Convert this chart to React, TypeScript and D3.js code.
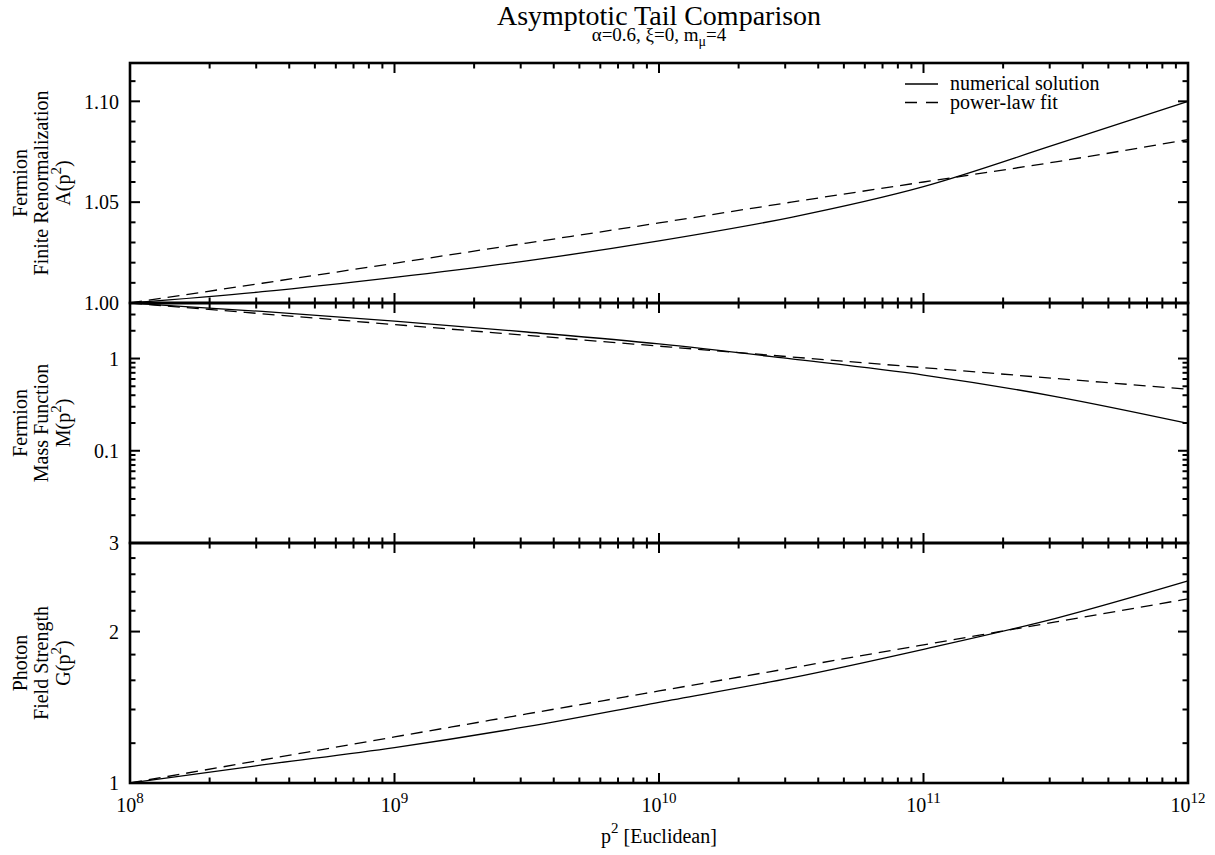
import React from 'react';
import * as d3 from 'd3';

// ---- data ----
const pSquared = [1e8, 3.162e8, 1e9, 3.162e9, 1e10, 3.162e10, 1e11, 3.162e11, 1e12];

const aNumerical = [1.0, 1.0056, 1.0127, 1.0209, 1.0308, 1.0425, 1.0577, 1.0786, 1.1];
const aPowerFit = [1.0, 1.0098, 1.0197, 1.0297, 1.0397, 1.05, 1.06, 1.07, 1.081];

const mNumerical = [4.0, 3.24, 2.55, 1.94, 1.44, 0.99, 0.662, 0.387, 0.198];
const mPowerFit = [4.0, 3.056, 2.335, 1.784, 1.363, 1.041, 0.796, 0.608, 0.464];

const gNumerical = [1.0, 1.086, 1.176, 1.294, 1.447, 1.618, 1.844, 2.125, 2.522];
const gPowerFit = [1.0, 1.111, 1.235, 1.372, 1.524, 1.693, 1.882, 2.091, 2.323];

const xMajorTicks = [1e8, 1e9, 1e10, 1e11, 1e12];
const xTickExponents = ['8', '9', '10', '11', '12'];

const aMajorTicks = [1.0, 1.05, 1.1];
const aTickLabels = ['1.00', '1.05', '1.10'];
const aMinorTicks = [1.01, 1.02, 1.03, 1.04, 1.06, 1.07, 1.08, 1.09, 1.11];

const mMajorTicks = [0.01, 0.1, 1];
const mTickLabels = ['', '0.1', '1'];

const gMajorTicks = [1, 2, 3];
const gTickLabels = ['1', '2', '3'];
const gMinorTicks = [1.2, 1.4, 1.6, 1.8, 2.2, 2.4, 2.6, 2.8];

const legendLabels = ['numerical solution', 'power-law fit'];

// ---- layout ----
const W = 1215;
const H = 855;
const LEFT = 130;
const RIGHT = 1188;
const FONT = "'Liberation Serif','Times New Roman',Times,serif";
const MAJOR = 10;
const MINOR = 5.5;
const DASH = '12,7';

const xScale = d3.scaleLog().domain([1e8, 1e12]).range([LEFT, RIGHT]);
const xMinorTicks = xScale.ticks().filter((t) => !xMajorTicks.some((m) => Math.abs(m - t) / m < 1e-9));

const yA = d3.scaleLinear().domain([1.0, 1.119]).range([303, 63]);
const yM = d3.scaleLog().domain([0.01, 4]).range([543, 303]);
const yG = d3.scaleLog().domain([1, 3]).range([783, 543]);
const mMinorTicks = yM.ticks().filter((t) => !mMajorTicks.some((m) => Math.abs(m - t) / m < 1e-9));

type PanelProps = {
  y: any;
  top: number;
  bottom: number;
  majors: number[];
  labels: string[];
  minors: number[];
  numerical: number[];
  fit: number[];
  title: React.ReactNode[];
};

function Panel({ y, top, bottom, majors, labels, minors, numerical, fit, title }: PanelProps) {
  const line = d3
    .line<number>()
    .x((_, i) => xScale(pSquared[i]))
    .y((d) => y(d))
    .curve(d3.curveMonotoneX);
  const cy = (top + bottom) / 2;
  const titleX = [27, 48, 70];
  return (
    <g>
      <path d={line(numerical) || ''} fill="none" stroke="#000" strokeWidth={1.3} />
      <path d={line(fit) || ''} fill="none" stroke="#000" strokeWidth={1.3} strokeDasharray={DASH} />
      {xMajorTicks.map((t, i) => (
        <g key={'xM' + i}>
          <line x1={xScale(t)} x2={xScale(t)} y1={top} y2={top + MAJOR} stroke="#000" strokeWidth={2} />
          <line x1={xScale(t)} x2={xScale(t)} y1={bottom} y2={bottom - MAJOR} stroke="#000" strokeWidth={2} />
        </g>
      ))}
      {xMinorTicks.map((t, i) => (
        <g key={'xm' + i}>
          <line x1={xScale(t)} x2={xScale(t)} y1={top} y2={top + MINOR} stroke="#000" strokeWidth={2} />
          <line x1={xScale(t)} x2={xScale(t)} y1={bottom} y2={bottom - MINOR} stroke="#000" strokeWidth={2} />
        </g>
      ))}
      {majors.map((t, i) => (
        <g key={'yM' + i}>
          <line x1={LEFT} x2={LEFT + MAJOR} y1={y(t)} y2={y(t)} stroke="#000" strokeWidth={2} />
          <line x1={RIGHT} x2={RIGHT - MAJOR} y1={y(t)} y2={y(t)} stroke="#000" strokeWidth={2} />
          {labels[i] ? (
            <text x={119} y={y(t)} dy="0.36em" textAnchor="end" fontSize={20}>
              {labels[i]}
            </text>
          ) : null}
        </g>
      ))}
      {minors.map((t, i) => (
        <g key={'ym' + i}>
          <line x1={LEFT} x2={LEFT + MINOR} y1={y(t)} y2={y(t)} stroke="#000" strokeWidth={2} />
          <line x1={RIGHT} x2={RIGHT - MINOR} y1={y(t)} y2={y(t)} stroke="#000" strokeWidth={2} />
        </g>
      ))}
      <rect x={LEFT} y={top} width={RIGHT - LEFT} height={bottom - top} fill="none" stroke="#000" strokeWidth={2.6} />
      {title.map((t, i) => (
        <text
          key={'t' + i}
          transform={`translate(${titleX[i]},${cy}) rotate(-90)`}
          textAnchor="middle"
          fontSize={20}
        >
          {t}
        </text>
      ))}
    </g>
  );
}

function superTitle(fn: string) {
  return [
    <tspan key="a">{fn}(p</tspan>,
    <tspan key="b" fontSize={15} dy={-9}>
      2
    </tspan>,
    <tspan key="c" dy={9}>
      )
    </tspan>,
  ];
}

export default function App() {
  return (
    <svg
      width={W}
      height={H}
      viewBox={`0 0 ${W} ${H}`}
      style={{ position: 'absolute', left: 0, top: 0, background: '#fff' }}
      fontFamily={FONT}
    >
      <rect x={0} y={0} width={W} height={H} fill="#fff" />
      <text x={659} y={25} textAnchor="middle" fontSize={28}>
        Asymptotic Tail Comparison
      </text>
      <text x={659} y={41} textAnchor="middle" fontSize={19}>
        α=0.6, ξ=0, m
        <tspan fontSize={14} dy={5}>
          μ
        </tspan>
        <tspan dy={-5}>=4</tspan>
      </text>

      <Panel
        y={yA}
        top={63}
        bottom={303}
        majors={aMajorTicks}
        labels={aTickLabels}
        minors={aMinorTicks}
        numerical={aNumerical}
        fit={aPowerFit}
        title={['Fermion', 'Finite Renormalization', <>{superTitle('A')}</>]}
      />
      <Panel
        y={yM}
        top={303}
        bottom={543}
        majors={mMajorTicks}
        labels={mTickLabels}
        minors={mMinorTicks}
        numerical={mNumerical}
        fit={mPowerFit}
        title={['Fermion', 'Mass Function', <>{superTitle('M')}</>]}
      />
      <Panel
        y={yG}
        top={543}
        bottom={783}
        majors={gMajorTicks}
        labels={gTickLabels}
        minors={gMinorTicks}
        numerical={gNumerical}
        fit={gPowerFit}
        title={['Photon', 'Field Strength', <>{superTitle('G')}</>]}
      />

      {xMajorTicks.map((t, i) => (
        <text key={'xl' + i} x={xScale(t)} y={812} textAnchor="middle" fontSize={20}>
          10
          <tspan fontSize={15} dy={-9}>
            {xTickExponents[i]}
          </tspan>
        </text>
      ))}
      <text x={659} y={843} textAnchor="middle" fontSize={20}>
        p
        <tspan fontSize={15} dy={-10}>
          2
        </tspan>
        <tspan dy={10}> [Euclidean]</tspan>
      </text>

      <line x1={905} x2={938} y1={84} y2={84} stroke="#000" strokeWidth={1.3} />
      <text x={950} y={90} fontSize={20}>
        {legendLabels[0]}
      </text>
      <line x1={905} x2={938} y1={102.5} y2={102.5} stroke="#000" strokeWidth={1.3} strokeDasharray="12,9" />
      <text x={950} y={108.5} fontSize={20}>
        {legendLabels[1]}
      </text>
    </svg>
  );
}
